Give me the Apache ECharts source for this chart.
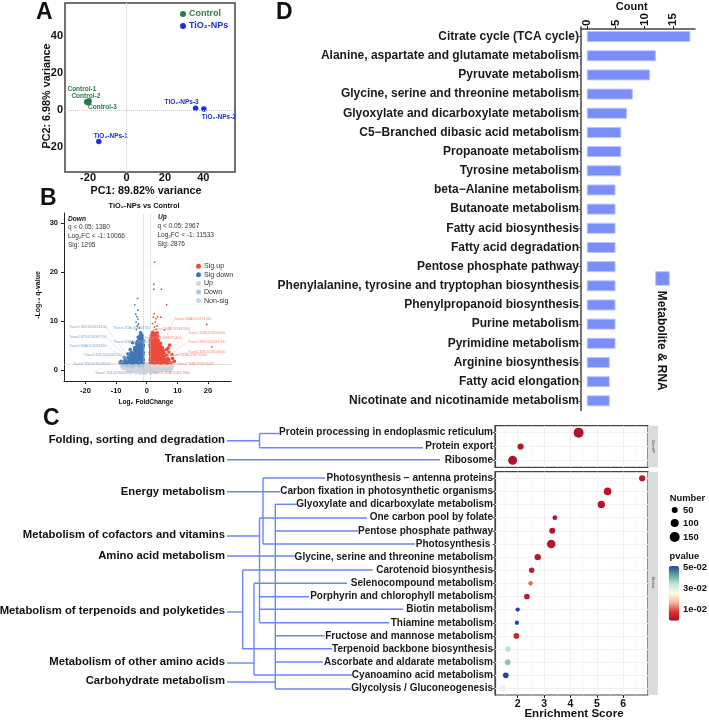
<!DOCTYPE html>
<html><head><meta charset="utf-8">
<style>html,body{margin:0;padding:0;background:#fff}#c{width:709px;height:720px}</style>
<script src="https://cdn.jsdelivr.net/npm/echarts@6/dist/echarts.min.js"></script>
</head><body><div id="c"></div>
<script>
// ---------- Panel A data ----------
const pcaControlNames = ['Control-1','Control-2','Control-3'];
const pcaControlPC1 = [-20.6,-19.6,-19.8];
const pcaControlPC2 = [4.5,5.0,4.3];
const pcaTiO2Names = ['TiO₂-NPs-1','TiO₂-NPs-2','TiO₂-NPs-3'];
const pcaTiO2PC1 = [-14.4,40.3,36.0];
const pcaTiO2PC2 = [-16.8,0.7,1.1];
const pcaXTicks = [-20,0,20,40];
const pcaYTicks = [-20,0,20,40];
// ---------- Panel B data ----------
const volcanoXTicks = [-20,-10,0,10,20];
const volcanoYTicks = [0,10,20,30];
const sigUp = [[1.2,1.5],[1.9,1.6],[2.6,1.4],[3.3,1.6],[4.0,1.5],[4.7,1.4],[5.4,1.6],[6.1,1.5],[6.8,1.4],[7.4,1.6],[8.0,1.5],
[1.1,2.1],[1.7,2.0],[2.4,2.2],[3.1,1.9],[3.8,2.1],[4.5,2.0],[5.2,2.1],[5.9,1.9],[6.6,2.0],[7.2,2.1],
[1.3,2.6],[2.0,2.5],[2.7,2.7],[3.4,2.5],[4.1,2.6],[4.8,2.4],[5.5,2.6],[6.2,2.5],[6.9,2.4],
[1.2,3.1],[1.8,3.0],[2.5,3.2],[3.2,2.9],[3.9,3.1],[4.6,3.0],[5.3,3.1],[6.0,2.9],[6.6,3.0],
[1.1,3.6],[1.7,3.5],[2.4,3.7],[3.1,3.4],[3.8,3.6],[4.5,3.5],[5.2,3.6],[5.8,3.4],
[1.3,4.1],[1.9,4.0],[2.6,4.2],[3.3,3.9],[4.0,4.1],[4.7,4.0],[5.3,4.0],
[1.2,4.6],[1.8,4.5],[2.5,4.7],[3.2,4.4],[3.9,4.6],[4.6,4.5],[5.1,4.6],
[1.1,5.1],[1.7,5.0],[2.4,5.2],[3.1,4.9],[3.8,5.1],[4.4,5.0],
[1.3,5.6],[2.0,5.5],[2.7,5.7],[3.4,5.4],[4.0,5.6],[4.5,5.5],
[1.2,6.1],[1.8,6.0],[2.5,6.2],[3.1,5.9],[3.7,6.1],
[1.4,6.6],[2.1,6.5],[2.8,6.7],[3.4,6.4],[1.5,7.1],[2.2,7.0],[2.9,7.2],[3.6,6.9],[1.8,7.6],[2.5,7.5],[3.4,7.6],
[2.2,8.0],[3.1,8.3],[2.5,8.8],[3.4,9.0],[1.9,9.5],[2.8,9.8],[3.0,10.5],[2.2,10.8],[4.6,10.8],[3.5,10.9],[2.4,11.5],[5.8,8.2],
[7.0,4.5],[5.5,4.0],[6.5,4.2],[7.2,3.7],[8.2,3.2],[7.5,5.1],[8.4,2.4],[9.0,1.8],[19.6,9.3],[21.2,4.75],[2.6,22],[2.3,17.5],[2.3,16.5],[4.8,16.5],[6.5,13.3]];
const sigDown = [[-1.2,1.5],[-1.9,1.6],[-2.6,1.4],[-3.3,1.6],[-4.0,1.5],[-4.7,1.4],[-5.4,1.6],[-6.1,1.5],[-6.8,1.4],[-7.4,1.6],[-8.0,1.5],
[-1.1,2.1],[-1.7,2.0],[-2.4,2.2],[-3.1,1.9],[-3.8,2.1],[-4.5,2.0],[-5.2,2.1],[-5.9,1.9],[-6.6,2.0],[-7.2,1.9],
[-1.3,2.6],[-2.0,2.5],[-2.7,2.7],[-3.4,2.5],[-4.1,2.6],[-4.8,2.4],[-5.5,2.6],[-6.2,2.5],
[-1.2,3.1],[-1.8,3.0],[-2.5,3.2],[-3.2,2.9],[-3.9,3.1],[-4.6,3.0],[-5.3,3.1],
[-1.1,3.6],[-1.7,3.5],[-2.4,3.7],[-3.1,3.4],[-3.8,3.6],[-4.5,3.5],[-5.1,3.6],
[-1.3,4.1],[-1.9,4.0],[-2.6,4.2],[-3.3,3.9],[-4.0,4.1],
[-1.2,4.6],[-1.8,4.5],[-2.5,4.7],[-3.2,4.4],[-3.9,4.6],
[-1.1,5.1],[-1.7,5.0],[-2.4,5.2],[-3.1,4.9],[-1.3,5.6],[-2.0,5.5],[-2.7,5.7],[-3.3,5.4],
[-1.2,6.1],[-1.8,6.0],[-2.5,6.2],[-3.0,5.9],[-1.4,6.6],[-2.1,6.5],[-2.8,6.7],[-1.5,7.1],[-2.2,7.0],[-2.0,7.6],
[-3.4,8.3],[-2.4,8.6],[-3.1,9.0],[-2.7,9.4],[-3.5,9.8],[-2.9,10.4],[-3.2,10.9],[-3.6,11.4],[-2.9,12.2],[-3.9,13.3],[-3.0,14.6],
[-4.6,5.6],[-5.4,4.2],[-6.2,3.3],[-7.3,2.6],[-8.4,1.8],[-8.7,1.5]];
const upLight = [[1.5,1.0],[2.5,0.9],[3.6,1.1],[4.6,0.8],[5.6,1.0],[6.6,0.9],[7.6,1.1],[8.4,0.8]];
const downLight = [[-1.5,1.0],[-2.5,0.9],[-3.6,1.1],[-4.6,0.8],[-5.6,1.0],[-6.6,0.9],[-7.6,1.1]];
const nonSig = [[-8,0.9],[-7,1.1],[-6,0.8],[-5,1.1],[-4,0.7],[-3,1.1],[-2,0.7],[-1,1.1],[0,1.2],[1,1.1],[2,0.6],[3,0.7],[4,0.5],[5,0.6],[6,0.6],[7,0.6],[8,0.5],
[-7.5,0.5],[-6.5,0.4],[-5.5,0.5],[-4.5,0.3],[-3.5,0.5],[-2.5,0.3],[-1.5,0.4],[-0.5,0.5],[0.5,0.6],[1.5,0.3],[2.5,0.2],[3.5,0.2],[4.5,0.1],[5.5,0.2],[6.5,0.1],[7.5,0.1],
[-6,0.1],[-5,0],[-4,0],[-3,0.1],[-2,0],[-1,0],[0,0],[1,0],[2,-0.1],[3,-0.2],[-0.6,0.9],[0.6,0.9],[-0.2,0.3],[0.2,0.3],[-3.5,-0.3],[-2,-0.4],[-0.5,-0.4],[1.5,-0.4]];
// ---------- Panel C data ----------
const geneIPPathways = ['Protein processing in endoplasmic reticulum','Protein export','Ribosome'];
const geneIPScore = [4.31,2.11,1.81];
const geneIPNumber = [150,55,125];
const geneIPP = [0.001,0.002,0.001];
const metabPathways = ['Photosynthesis − antenna proteins','Carbon fixation in photosynthetic organisms','Glyoxylate and dicarboxylate metabolism','One carbon pool by folate','Pentose phosphate pathway','Photosynthesis ','Glycine, serine and threonine metabolism','Carotenoid biosynthesis','Selenocompound metabolism','Porphyrin and chlorophyll metabolism','Biotin metabolism','Thiamine metabolism','Fructose and mannose metabolism','Terpenoid backbone biosynthesis','Ascorbate and aldarate metabolism','Cyanoamino acid metabolism','Glycolysis / Gluconeogenesis'];
const metabScore = [6.72,5.41,5.17,3.41,3.31,3.27,2.76,2.53,2.49,2.35,2.0,1.97,1.95,1.63,1.62,1.55,1.43];
const metabNumber = [55,90,85,20,52,115,60,35,15,42,8,8,42,40,40,42,55];
const metabP = [0.002,0.002,0.002,0.002,0.002,0.002,0.002,0.003,0.012,0.003,0.05,0.05,0.005,0.034,0.038,0.05,0.028];
const enrichTicks = [2,3,4,5,6];
const enrichMinor = [1.5,2.5,3.5,4.5,5.5,6.5];
const pvalueColors = ['#a50f2d','#e03530','#f4b9a8','#fffde0','#c4e4e4','#5fa79a','#2a459f'];
// ---------- Panel D data ----------
const countPathways = ['Citrate cycle (TCA cycle)','Alanine, aspartate and glutamate metabolism','Pyruvate metabolism','Glycine, serine and threonine metabolism','Glyoxylate and dicarboxylate metabolism','C5−Branched dibasic acid metabolism','Propanoate metabolism','Tyrosine metabolism','beta−Alanine metabolism','Butanoate metabolism','Fatty acid biosynthesis','Fatty acid degradation','Pentose phosphate pathway','Phenylalanine, tyrosine and tryptophan biosynthesis','Phenylpropanoid biosynthesis','Purine metabolism','Pyrimidine metabolism','Arginine biosynthesis','Fatty acid elongation','Nicotinate and nicotinamide metabolism'];
const countValues = [18,12,11,8,7,6,6,6,5,5,5,5,5,5,5,5,5,4,4,4];
const countTicks = [0,5,10,15];

const FF = '"Liberation Sans", Arial, sans-serif';
const GREEN = '#2c7a4b', BLUE = '#1c2fd8', LINK = '#6a86f7';
const pcaLabelOffset = {'Control-1':[-5,-13],'Control-2':[-3,-5],'Control-3':[14,5],'TiO₂-NPs-1':[12,-5],'TiO₂-NPs-2':[15,8],'TiO₂-NPs-3':[-14,-6]};
function pcaData(names,xs,ys,color){
  return names.map((n,i)=>({name:n,value:[xs[i],ys[i]],label:{show:true,position:'inside',formatter:n,offset:pcaLabelOffset[n],color:color,fontSize:6.5,fontWeight:'bold'}}));
}
const zeroLines = {silent:true,symbol:'none',label:{show:false},animation:false,lineStyle:{type:'dotted',color:'#c3c9ea',width:1},data:[{xAxis:0},{yAxis:0}]};
const dotted = {silent:true,symbol:'none',label:{show:false},animation:false,lineStyle:{type:'dotted',color:'#bbb',width:0.8},data:[{xAxis:-1},{xAxis:1},{yAxis:1.3}]};
const faint = (cats)=>({silent:true,symbol:'none',label:{show:false},animation:false,z:1,lineStyle:{type:'solid',color:'#f1f1f1',width:1},
  data:[...enrichTicks.map(v=>({xAxis:v})),...enrichMinor.map(v=>({xAxis:v,lineStyle:{color:'#f7f7f7',width:.6}})),...cats.map(c=>({yAxis:c}))]});
const sizeOf = v=>4+0.04*v[2];
const blobSize = v=>(v[1]<8 && Math.abs(v[0])<10) ? 3.6 : 1.8;

const series = [
 {name:'Control',type:'scatter',xAxisIndex:0,yAxisIndex:0,symbolSize:6,itemStyle:{color:GREEN,opacity:1},data:pcaData(pcaControlNames,pcaControlPC1,pcaControlPC2,GREEN),markLine:zeroLines},
 {name:'TiO₂-NPs',type:'scatter',xAxisIndex:0,yAxisIndex:0,symbolSize:5.5,itemStyle:{color:BLUE,opacity:1},data:pcaData(pcaTiO2Names,pcaTiO2PC1,pcaTiO2PC2,BLUE)},
 {name:'Non-sig',type:'scatter',xAxisIndex:1,yAxisIndex:1,symbolSize:5,itemStyle:{color:'#ccd4e2',opacity:1},data:nonSig,markLine:dotted},
 {name:'Down',type:'scatter',xAxisIndex:1,yAxisIndex:1,symbolSize:4,itemStyle:{color:'#a9ccd8',opacity:1},data:downLight},
 {name:'Up',type:'scatter',xAxisIndex:1,yAxisIndex:1,symbolSize:4,itemStyle:{color:'#f1cdd2',opacity:1},data:upLight},
 {name:'Sig down',type:'scatter',xAxisIndex:1,yAxisIndex:1,symbolSize:blobSize,itemStyle:{color:'#3f77b6',opacity:1},data:sigDown},
 {name:'Sig up',type:'scatter',xAxisIndex:1,yAxisIndex:1,symbolSize:blobSize,itemStyle:{color:'#ee4a3b',opacity:1},data:sigUp},
 {name:'Metabolite & RNA',type:'bar',xAxisIndex:2,yAxisIndex:2,barWidth:11,itemStyle:{color:'#7a8df8',borderColor:'#b9c5fc',borderWidth:1},data:countValues},
 {name:'gridUp',type:'line',xAxisIndex:3,yAxisIndex:3,data:[],markLine:faint(geneIPPathways)},
 {name:'gridLow',type:'line',xAxisIndex:4,yAxisIndex:4,data:[],markLine:faint(metabPathways)},
 {name:'GeneIP',type:'scatter',xAxisIndex:3,yAxisIndex:3,z:5,symbolSize:sizeOf,itemStyle:{opacity:1},data:geneIPPathways.map((c,i)=>[geneIPScore[i],c,geneIPNumber[i],geneIPP[i]]),encode:{x:0,y:1}},
 {name:'Metab',type:'scatter',xAxisIndex:4,yAxisIndex:4,z:5,symbolSize:sizeOf,itemStyle:{opacity:1},data:metabPathways.map((c,i)=>[metabScore[i],c,metabNumber[i],metabP[i]]),encode:{x:0,y:1}}
];

const DARK='#444';
const label = (ticks,font,margin,more)=>Object.assign({show:true,customValues:ticks,fontSize:font,fontWeight:'bold',color:'#111',margin,hideOverlap:false,showMinLabel:true,showMaxLabel:true},more||{});
function valAxis(idx,min,max,ticks,font,margin,extra){
  return Object.assign({type:'value',gridIndex:idx,min,max,splitLine:{show:false},
    axisLine:{show:true,onZero:false,lineStyle:{color:'#222',width:1}},
    axisTick:{show:true,length:3,customValues:ticks,lineStyle:{color:'#222'}},
    axisLabel:label(ticks,font,margin)},extra||{});
}
const noLine = {axisLine:{show:false,onZero:false}};
function catAxis(idx,cats,font){
  return {type:'category',gridIndex:idx,inverse:true,data:cats,
    axisLine:{show:true,onZero:false,lineStyle:{color:DARK,width:1.2}},axisTick:{show:true,length:2.5,alignWithLabel:true,lineStyle:{color:'#555'}},
    splitLine:{show:false},axisLabel:{interval:0,fontSize:font,fontWeight:'bold',color:'#1a1a1a',margin:2}};
}

// ---------- free text & connectors ----------
const g = [];
function T(x,y,text,o){o=o||{};g.push({type:'text',x,y,rotation:o.rot||0,silent:true,z:o.z||20,style:{text,font:`${o.style||''} ${o.w||'bold'} ${o.size||10}px ${FF}`,fill:o.color||'#111',align:o.align||'left',verticalAlign:'middle'}});}
function L(pts,o){o=o||{};g.push({type:'polyline',silent:true,z:o.z||10,shape:{points:pts},style:{stroke:o.color||LINK,lineWidth:o.width||1.4,fill:null}});}
const UPRIGHT=Math.PI/2, CW=-Math.PI/2;
T(36,13,'A',{size:23}); T(40,199,'B',{size:23}); T(43,419,'C',{size:23}); T(276,12.5,'D',{size:23});
// A axis titles
T(146,191,'PC1: 89.82% variance',{size:10.8,align:'center'});
T(47,96,'PC2: 6.98% variance',{size:10.8,align:'center',rot:UPRIGHT});
// B texts
T(144,206,'TiO₂-NPs vs Control',{size:7.4,align:'center'});
T(38,295,'-Log₁₀ q-value',{size:7,align:'center',rot:UPRIGHT});
T(146,402,'Log₂ FoldChange',{size:6.6,align:'center'});
T(68,219,'Down',{size:6.6,style:'italic'});
T(68,227.7,'q < 0.05: 1380',{size:6.5,w:'normal',color:'#333'});
T(68,236.7,'Log₂FC < -1: 10066',{size:6.5,w:'normal',color:'#333'});
T(68,245,'Sig: 1295',{size:6.5,w:'normal',color:'#333'});
T(158,217,'Up',{size:6.6,style:'italic'});
T(157.5,226,'q < 0.05: 2967',{size:6.5,w:'normal',color:'#333'});
T(157.5,235,'Log₂FC < -1: 11533',{size:6.5,w:'normal',color:'#333'});
T(157.5,244,'Sig: 2876',{size:6.5,w:'normal',color:'#333'});
[[69,326.7,'TraesCS6D02G314100'],[113,328.3,'TraesCS1B02G044700'],[69,336.7,'TraesCS7D02G087700'],[69,345.7,'TraesCS4A02G034500'],[113,342,'TraesCS3A02G106800'],[84,354.7,'TraesCS2D02G026500'],[73,364,'TraesCS5D02G008200'],[95,373,'TraesCS3D02G498300']]
 .forEach(a=>T(a[0],a[1],a[2],{size:3.6,w:'normal',color:'#7fa5cf'}));
[[174,319.3,'TraesCS6A02G374100'],[153,328.7,'TraesCS4B02G347300'],[188,333.3,'TraesCS2B02G559400'],[144,337.7,'TraesCS6D02G072400'],[188,342,'TraesCS6D02G241700'],[188,352.3,'TraesCS2D02G554600'],[170,354.7,'TraesCS2B02G570000'],[177,364,'TraesCS4B02G553400'],[153,373,'TraesCS1A02G027800']]
 .forEach(a=>T(a[0],a[1],a[2],{size:3.6,w:'normal',color:'#f08b7c'}));
[[[106,327],[127,355]],[[106,337],[127,358]],[[106,346],[125,358]],[[121,355],[128,360]],[[110,364],[124,362]],[[131,373],[135,366]]]
 .forEach(p=>L(p,{color:'#c5d5e8',width:.5}));
[[[174,319],[163,345]],[[188,334],[164,355]],[[188,342],[166,357]],[[188,352],[168,357]],[[170,355],[165,358]],[[177,364],[168,362]],[[153,373],[150,366]]]
 .forEach(p=>L(p,{color:'#f5c9c2',width:.5}));
// D
T(631.7,7,'Count',{size:11,align:'center'});
g.push({type:'rect',silent:true,shape:{x:655.7,y:271.7,width:13.6,height:13.6},style:{fill:'#7a8df8',stroke:'#b9c5fc',lineWidth:1}});
T(661.7,340.7,'Metabolite & RNA',{size:11.9,align:'center',rot:CW});
// C left categories
[[440,'Folding, sorting and degradation'],[458.7,'Translation'],[491.7,'Energy metabolism'],[535,'Metabolism of cofactors and vitamins'],[556,'Amino acid metabolism'],[611,'Metabolism of terpenoids and polyketides'],[662,'Metabolism of other amino acids'],[681,'Carbohydrate metabolism']]
 .forEach(a=>T(225,a[0],a[1],{size:11.3,align:'right'}));
// C connectors
[
 [[227,440.7],[259.5,440.7]],[[259.5,433.5],[259.5,447.7]],[[259.5,433.5],[279,433.5]],[[259.5,447.7],[423,447.7]],
 [[227,459.7],[440,459.7]],
 [[227,491.7],[280,491.7]],[[263,478],[263,544]],[[263,478],[325,478]],[[263,544],[415,544]],
 [[227,536],[259.5,536]],[[259.5,518],[259.5,622.7]],[[259.5,518],[367,518]],[[259.5,596.7],[309,596.7]],[[259.5,609.3],[403,609.3]],[[259.5,622.7],[389,622.7]],
 [[227,556],[295,556]],
 [[227,612],[242.7,612]],[[242.7,570],[242.7,648.7]],[[242.7,570],[372.7,570]],[[242.7,648.7],[332,648.7]],
 [[227,663],[254,663]],[[254,583.3],[254,675]],[[254,583.3],[347,583.3]],[[254,675],[352,675]],
 [[227,682],[275.3,682]],[[275.3,504.3],[275.3,689]],[[275.3,504.3],[297,504.3]],[[275.3,531],[358,531]],[[275.3,635.7],[324.7,635.7]],[[275.3,662],[323,662]],[[275.3,689],[351,689]]
].forEach(p=>L(p));
// C strips
g.push({type:'rect',silent:true,z:2,shape:{x:648,y:425.7,width:10,height:41.6},style:{fill:'#dcdcdc'}});
g.push({type:'rect',silent:true,z:2,shape:{x:648,y:471.7,width:10,height:223.3},style:{fill:'#dcdcdc'}});
T(653,446.5,'GeneIP',{size:3.8,w:'normal',color:'#444',align:'center',rot:CW});
T(653,583,'Metab.',{size:3.8,w:'normal',color:'#444',align:'center',rot:CW});
T(574,713.5,'Enrichment Score',{size:11.6,align:'center'});
// C legends
T(669.7,498.7,'Number',{size:9.4});
[[510,'50',6],[523,'100',8],[537,'150',10]].forEach(a=>{
  g.push({type:'circle',silent:true,shape:{cx:674.7,cy:a[0],r:a[2]/2},style:{fill:'#000'}});
  T(683,a[0],a[1],{size:9.4});
});
T(669.5,556,'pvalue',{size:9.4});
[[567,'5e-02'],[588,'3e-02'],[609,'1e-02']].forEach(a=>T(683,a[0],a[1],{size:9.4}));

const option = {
  animation:false,backgroundColor:'#fff',textStyle:{fontFamily:FF},
  grid:[
    {left:65,top:3,width:170,height:169,show:true,borderColor:DARK,borderWidth:1.5,backgroundColor:'#fff'},
    {left:64,top:213,width:167,height:168},
    {left:581,top:27,width:114,height:383.4},
    {left:495,top:425.7,width:153,height:41.6,show:true,borderColor:DARK,borderWidth:1.2,backgroundColor:'#fff'},
    {left:495,top:471.7,width:153,height:223.3,show:true,borderColor:DARK,borderWidth:1.2,backgroundColor:'#fff'}
  ],
  xAxis:[
    valAxis(0,-32,56.5,pcaXTicks,11,0,Object.assign({axisTick:{show:false}},noLine)),
    valAxis(1,-27,27.5,volcanoXTicks,7.5,6),
    valAxis(2,-1,18.8,countTicks,11.5,3,{position:'top',offset:-2,axisLine:{show:true,onZero:false,lineStyle:{color:DARK,width:1.5}},axisLabel:label(countTicks,11.5,3,{rotate:-90})}),
    valAxis(3,1.14,6.94,enrichTicks,10,4,{axisLine:{show:false,onZero:false},axisTick:{show:false},axisLabel:{show:false}}),
    valAxis(4,1.14,6.94,enrichTicks,10.5,4,noLine)
  ],
  yAxis:[
    valAxis(0,-33.3,58,pcaYTicks,11,2,Object.assign({axisTick:{show:false}},noLine)),
    valAxis(1,-2.2,32,volcanoYTicks,7.5,6),
    Object.assign(catAxis(2,countPathways,12),{axisLine:{show:true,onZero:false,lineStyle:{color:DARK,width:1.5}}}),
    catAxis(3,geneIPPathways,10),
    catAxis(4,metabPathways,10)
  ],
  legend:[
    {left:175,top:4.5,orient:'vertical',itemWidth:6,itemHeight:6,itemGap:3,selectedMode:false,icon:'circle',data:['Control','TiO₂-NPs'],textStyle:{color:'inherit',fontSize:9,fontWeight:'bold',padding:[0,0,0,-2]}},
    {left:191,top:257.7,orient:'vertical',itemWidth:5,itemHeight:5,itemGap:1.6,selectedMode:false,icon:'circle',data:['Sig up','Sig down','Up','Down','Non-sig'],textStyle:{color:'#333',fontSize:7.1,padding:[0,0,0,-2]}}
  ],
  visualMap:[{type:'continuous',seriesIndex:[series.findIndex(s=>s.name==='GeneIP'),series.findIndex(s=>s.name==='Metab')],dimension:3,min:0,max:0.05,
    left:668.7,top:566,itemWidth:10.6,itemHeight:54.7,text:null,calculable:false,realtime:false,hoverLink:false,inRange:{color:pvalueColors},padding:0}],
  series,
  graphic:{elements:g}
};
const chart = echarts.init(document.getElementById('c'),null,{renderer:'canvas',width:709,height:720});
chart.setOption(option);
</script></body></html>
